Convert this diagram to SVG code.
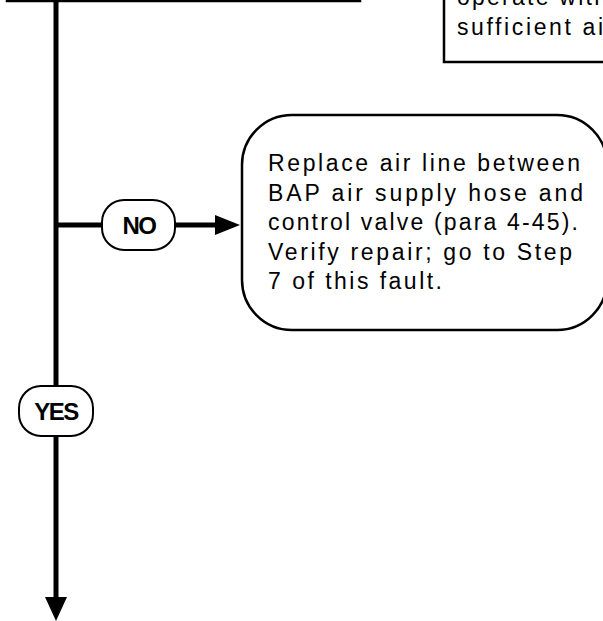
<svg xmlns="http://www.w3.org/2000/svg" width="603" height="621" viewBox="0 0 603 621">
<style>
.box{fill:#fff;stroke:#000;stroke-width:2.5}
.pill{fill:#fff;stroke:#000;stroke-width:2}
.line{fill:none;stroke:#000;stroke-width:5}
.head{fill:#000}
.t{font-family:"Liberation Sans",Arial,sans-serif;font-size:23px;fill:#000}
.lbl{font-family:"Liberation Sans",Arial,sans-serif;font-size:24px;font-weight:bold;fill:#000;text-anchor:middle;letter-spacing:-1.5px}
</style>
<g id="connectors">
<line class="line" x1="56" y1="0" x2="56" y2="386"/>
<line class="line" x1="56" y1="436" x2="56" y2="600"/>
<polygon class="head" points="45,597 67,597 56,621"/>
<line class="line" x1="56" y1="225" x2="102" y2="225"/>
<line class="line" x1="175" y1="225" x2="218" y2="225"/>
<polygon class="head" points="215,215 240,225 215,235"/>
</g>
<g id="node-top-left">
<rect class="box" x="7" y="-60" width="353" height="61"/>
</g>
<g id="node-top-right">
<rect class="box" x="444" y="-60" width="200" height="122"/>
<text class="t" x="457" y="5" textLength="150" lengthAdjust="spacing">operate with</text>
<text class="t" x="457" y="35" textLength="146" lengthAdjust="spacing">sufficient ai</text>
</g>
<g id="node-replace">
<rect class="box" x="242" y="115" width="365" height="215" rx="50" ry="50"/>
<text class="t" x="268" y="171" textLength="312" lengthAdjust="spacing">Replace air line between</text>
<text class="t" x="268" y="200.5" textLength="315" lengthAdjust="spacing">BAP air supply hose and</text>
<text class="t" x="268" y="230" textLength="310" lengthAdjust="spacing">control valve (para 4-45).</text>
<text class="t" x="268" y="259.5" textLength="304" lengthAdjust="spacing">Verify repair; go to Step</text>
<text class="t" x="268" y="289" textLength="174" lengthAdjust="spacing">7 of this fault.</text>
</g>
<g id="label-no">
<rect class="pill" x="102" y="200" width="73" height="50" rx="22" ry="22"/>
<text class="lbl" x="139" y="234">NO</text>
</g>
<g id="label-yes">
<rect class="pill" x="19" y="386" width="74" height="50" rx="22" ry="22"/>
<text class="lbl" x="56" y="420">YES</text>
</g>
</svg>
